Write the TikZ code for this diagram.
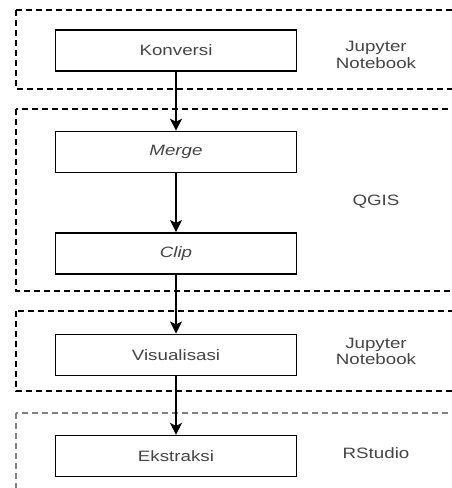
\documentclass[tikz,border=0pt]{standalone}
\usepackage{fontspec}
\setmainfont[FakeStretch=1.25]{Liberation Sans}
\usepackage{tikz}
\usetikzlibrary{arrows.meta, positioning}
\usepackage{xcolor}
\definecolor{labelgray}{HTML}{444444}

\tikzset{
  stepbox/.style={draw, line width=1.4pt, minimum width=241pt, minimum height=41pt, inner sep=0pt,
    text=labelgray, font=\fontsize{15}{17}\selectfont},
  toolname/.style={text=labelgray, align=center, font=\fontsize{15}{16.5}\selectfont},
  groupbox/.style={draw=black, line width=1.2pt, dash pattern=on 6pt off 4pt},
  flow/.style={-{Stealth[length=12pt, width=12pt, inset=3pt]}, line width=1.3pt}
}

\begin{document}
\begin{tikzpicture}[x=1pt, y=-1pt, node distance=59pt]
\useasboundingbox (0,0) rectangle (452,488);
\clip (0,0) rectangle (452,488);

% groups
\draw[groupbox] (16,10) rectangle (470,89);
\draw[groupbox] (16,109) rectangle (470,291);
\draw[groupbox] (16,311) rectangle (470,391);
\draw[groupbox, draw=black!50, line width=2pt] (16,413) rectangle (470,520);

% steps
\node[stepbox] (konv) at (176,50.5) {Konversi};
\node[stepbox, below=of konv] (merge) {\itshape Merge};
\node[stepbox, below=of merge] (clip) {\itshape Clip};
\node[stepbox, below=of clip] (vis) {Visualisasi};
\node[stepbox, below=of vis] (ekst) {Ekstraksi};

% tools
\node[toolname] (jup1) at (376,55) {Jupyter\\Notebook};
\node[toolname] (qgis) at (376,201.5) {QGIS};
\node[toolname] (jup2) at (376,351.5) {Jupyter\\Notebook};
\node[toolname] (rstudio) at (376,453) {RStudio};

\draw[flow] (konv) -- (merge);
\draw[flow] (merge) -- (clip);
\draw[flow] (clip) -- (vis);
\draw[flow] (vis) -- (ekst);
\end{tikzpicture}
\end{document}
